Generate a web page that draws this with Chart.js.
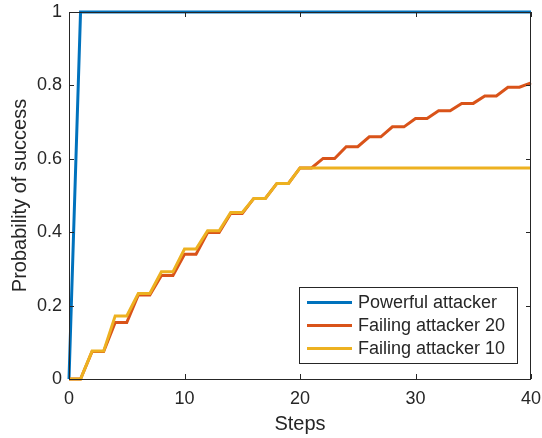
<!DOCTYPE html>
<html>
<head>
<meta charset="utf-8">
<script src="https://cdn.jsdelivr.net/npm/chart.js@4.4.1/dist/chart.umd.min.js"></script>
<style>
  html, body { margin: 0; padding: 0; background: #fff; }
  #wrap { width: 542px; height: 438px; }
</style>
</head>
<body>
<div id="wrap"><canvas id="chart" width="542" height="438"></canvas></div>
<script>
// steps 0..40
const steps = Array.from({ length: 41 }, (_, i) => i);

const powerful = [0, 1, 1, 1, 1, 1, 1, 1, 1, 1, 1, 1, 1, 1, 1, 1, 1, 1, 1, 1, 1,
  1, 1, 1, 1, 1, 1, 1, 1, 1, 1, 1, 1, 1, 1, 1, 1, 1, 1, 1, 1];

const failing20 = [0, 0, 0.075, 0.075, 0.154, 0.154, 0.229, 0.229, 0.282, 0.282,
  0.340, 0.340, 0.399, 0.399, 0.451, 0.451, 0.492, 0.492, 0.533, 0.533,
  0.575, 0.575, 0.601, 0.601, 0.633, 0.633, 0.660, 0.660, 0.687, 0.687,
  0.710, 0.710, 0.731, 0.731, 0.751, 0.751, 0.771, 0.771, 0.795, 0.795, 0.807];

const failing10 = [0, 0, 0.076, 0.076, 0.172, 0.172, 0.233, 0.233, 0.292, 0.292,
  0.354, 0.354, 0.404, 0.404, 0.454, 0.454, 0.492, 0.492, 0.533, 0.533,
  0.575, 0.575, 0.575, 0.575, 0.575, 0.575, 0.575, 0.575, 0.575, 0.575,
  0.575, 0.575, 0.575, 0.575, 0.575, 0.575, 0.575, 0.575, 0.575, 0.575, 0.575];

const xTicks = [0, 10, 20, 30, 40];
const yTicks = [0, 0.2, 0.4, 0.6, 0.8, 1];

const seriesNames = ['Powerful attacker', 'Failing attacker 20', 'Failing attacker 10'];
const seriesColors = ['#0072BD', '#D95319', '#EDB120'];

const axisColor = '#262626';
const fontFamily = '"Liberation Sans", Arial, Helvetica, sans-serif';

function toPoints(values) {
  return steps.map((x, i) => ({ x, y: values[i] }));
}

// MATLAB-style box, inward ticks and legend
const matlabAxes = {
  id: 'matlabAxes',
  afterDraw(chart) {
    const { ctx, chartArea: area, scales } = chart;
    const tick = 5;
    ctx.save();
    ctx.strokeStyle = axisColor;
    ctx.lineWidth = 1;
    ctx.strokeRect(area.left + 0.5, area.top + 0.5, area.right - area.left - 1, area.bottom - area.top);

    ctx.beginPath();
    xTicks.forEach((v) => {
      const px = Math.round(scales.x.getPixelForValue(v)) + 0.5;
      ctx.moveTo(px, area.bottom);
      ctx.lineTo(px, area.bottom - tick);
      ctx.moveTo(px, area.top);
      ctx.lineTo(px, area.top + tick);
    });
    yTicks.forEach((v) => {
      const py = Math.round(scales.y.getPixelForValue(v)) + 0.5;
      ctx.moveTo(area.left, py);
      ctx.lineTo(area.left + tick, py);
      ctx.moveTo(area.right, py);
      ctx.lineTo(area.right - tick, py);
    });
    ctx.stroke();

    // legend box
    const box = { x: 299.5, y: 287.5, w: 218, h: 76 };
    ctx.fillStyle = '#fff';
    ctx.fillRect(box.x, box.y, box.w, box.h);
    ctx.strokeStyle = axisColor;
    ctx.strokeRect(box.x, box.y, box.w, box.h);
    ctx.font = '18px ' + fontFamily;
    ctx.textBaseline = 'middle';
    ctx.textAlign = 'left';
    seriesNames.forEach((name, i) => {
      const cy = 302.5 + i * 23;
      ctx.strokeStyle = seriesColors[i];
      ctx.lineWidth = 3;
      ctx.beginPath();
      ctx.moveTo(307, cy);
      ctx.lineTo(352, cy);
      ctx.stroke();
      ctx.fillStyle = axisColor;
      ctx.fillText(name, 358, cy + 1);
    });
    ctx.restore();
  }
};

const datasets = [powerful, failing20, failing10].map((values, i) => ({
  label: seriesNames[i],
  data: toPoints(values),
  borderColor: seriesColors[i],
  backgroundColor: seriesColors[i],
  borderWidth: 3,
  pointRadius: 0,
  tension: 0,
  clip: false,
  order: 2 - i
}));

new Chart(document.getElementById('chart'), {
  type: 'line',
  data: { datasets },
  options: {
    responsive: false,
    animation: false,
    devicePixelRatio: 1,
    layout: { padding: { top: 12, right: 11, left: 0, bottom: 0 } },
    plugins: {
      legend: { display: false },
      tooltip: { enabled: false }
    },
    scales: {
      x: {
        type: 'linear',
        min: 0,
        max: 40,
        afterFit: (scale) => {
          scale.height = 59;
          scale.paddingLeft = 0;
          scale.paddingRight = 0;
        },
        afterBuildTicks: (scale) => { scale.ticks = xTicks.map((value) => ({ value })); },
        grid: { display: false, drawTicks: false },
        border: { display: false },
        ticks: {
          color: axisColor,
          padding: 9,
          maxRotation: 0,
          font: { family: fontFamily, size: 18 }
        },
        title: {
          display: true,
          text: 'Steps',
          color: axisColor,
          padding: { top: 0, bottom: 2 },
          font: { family: fontFamily, size: 20, lineHeight: 1.2 }
        }
      },
      y: {
        type: 'linear',
        min: 0,
        max: 1,
        afterFit: (scale) => {
          scale.width = 69;
          scale.paddingTop = 0;
          scale.paddingBottom = 0;
        },
        afterBuildTicks: (scale) => { scale.ticks = yTicks.map((value) => ({ value })); },
        grid: { display: false, drawTicks: false },
        border: { display: false },
        ticks: {
          color: axisColor,
          padding: 7,
          font: { family: fontFamily, size: 18 },
          callback: (v) => String(Number(v.toFixed(1)))
        },
        title: {
          display: true,
          text: 'Probability of success',
          color: axisColor,
          padding: { top: 8, bottom: 0 },
          font: { family: fontFamily, size: 20, lineHeight: 1.2 }
        }
      }
    }
  },
  plugins: [matlabAxes]
});
</script>
</body>
</html>
